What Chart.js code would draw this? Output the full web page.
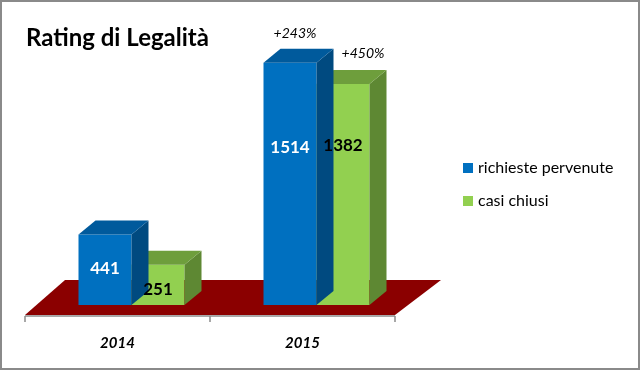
<!DOCTYPE html>
<html><head><meta charset="utf-8">
<script src="https://cdn.jsdelivr.net/npm/chart.js@4"></script>
<style>html,body{margin:0;padding:0;background:#fff}</style>
</head><body><canvas id="c" width="640" height="370"></canvas>
<script>
const categories = ['2014', '2015'];
const richiestePervenute = [441, 1514];
const casiChiusi = [251, 1382];
const seriesNames = ['richieste pervenute', 'casi chiusi'];
const growthLabels = ['+243%', '+450%'];
const chartTitle = 'Rating di Legalità';

const FONT = 'Lato, "Open Sans", sans-serif';
const DX = 17, DY = 14;
const frontColors = ['#0070C0', '#92D050'];
const faceColors = {
  top: ['#005A9C', '#6E9E3C'],
  side: ['#004A80', '#5E8833']
};
const labelColors = ['#ffffff', '#000000'];
// vertical position of value label inside each bar (fraction of bar height from base), [dataset][category]
const labelFrac = [[0.52, 0.65], [0.375, 0.72]];
const growthOffset = [[5, -29], [20, -30]];

const bar3d = {
  id: 'bar3d',
  beforeDatasetsDraw(chart) {
    const ctx = chart.ctx, xs = chart.scales.x, ys = chart.scales.y;
    const base = ys.getPixelForValue(0);
    const L = xs.left - 14, R = xs.right - 14;
    ctx.save();
    ctx.fillStyle = '#8B0000';
    ctx.beginPath();
    ctx.moveTo(L, base + 10);
    ctx.lineTo(L + 40, base - 25);
    ctx.lineTo(R + 46, base - 25);
    ctx.lineTo(R, base + 10);
    ctx.closePath();
    ctx.fill();
    ctx.strokeStyle = '#8c8c8c';
    ctx.lineWidth = 1.5;
    ctx.beginPath();
    ctx.moveTo(L, base + 11); ctx.lineTo(R, base + 11);
    [L, (L + R) / 2, R].forEach(px => { ctx.moveTo(px, base + 11); ctx.lineTo(px, base + 17); });
    ctx.stroke();
    ctx.restore();
  },
  afterDatasetDraw(chart, args) {
    const ctx = chart.ctx, di = args.index;
    ctx.save();
    args.meta.data.forEach(bar => {
      const p = bar.getProps(['x', 'y', 'base', 'width'], true);
      const l = p.x - p.width / 2, r = p.x + p.width / 2, t = p.y, b = p.base;
      ctx.fillStyle = faceColors.side[di];
      ctx.beginPath();
      ctx.moveTo(r, t); ctx.lineTo(r + DX, t - DY); ctx.lineTo(r + DX, b - DY); ctx.lineTo(r, b);
      ctx.closePath(); ctx.fill();
      ctx.fillStyle = faceColors.top[di];
      ctx.beginPath();
      ctx.moveTo(l, t); ctx.lineTo(l + DX, t - DY); ctx.lineTo(r + DX, t - DY); ctx.lineTo(r, t);
      ctx.closePath(); ctx.fill();
    });
    ctx.restore();
  },
  afterDraw(chart) {
    const ctx = chart.ctx;
    ctx.save();
    // value labels
    chart.data.datasets.forEach((ds, di) => {
      const meta = chart.getDatasetMeta(di);
      meta.data.forEach((bar, i) => {
        const p = bar.getProps(['x', 'y', 'base'], true);
        const y = p.base - labelFrac[di][i] * (p.base - p.y);
        ctx.font = 'bold 17px ' + FONT;
        ctx.fillStyle = labelColors[di];
        ctx.textAlign = 'center';
        ctx.textBaseline = 'middle';
        ctx.fillText(String(ds.data[i]), p.x, y);
      });
      const last = meta.data[meta.data.length - 1].getProps(['x', 'y'], true);
      ctx.font = 'italic 14px ' + FONT;
      ctx.fillStyle = '#000';
      ctx.textAlign = 'center';
      ctx.textBaseline = 'middle';
      ctx.fillText(growthLabels[di], last.x + growthOffset[di][0], last.y + growthOffset[di][1]);
    });
    // legend
    ctx.font = '16px ' + FONT;
    ctx.textAlign = 'left';
    ctx.textBaseline = 'middle';
    chart.data.datasets.forEach((ds, di) => {
      const cy = 168 + di * 33;
      ctx.fillStyle = frontColors[di];
      ctx.fillRect(463, cy - 5, 10, 10);
      ctx.fillStyle = '#000';
      ctx.fillText(ds.label, 478, cy);
    });
    // title
    ctx.font = 'bold 24px ' + FONT;
    ctx.fillStyle = '#000';
    ctx.textAlign = 'left';
    ctx.textBaseline = 'alphabetic';
    ctx.fillText(chartTitle, 26, 46);
    // border
    ctx.strokeStyle = '#8a8a8a';
    ctx.lineWidth = 2;
    ctx.strokeRect(1, 1, 638, 368);
    ctx.restore();
  }
};

new Chart(document.getElementById('c'), {
  type: 'bar',
  data: {
    labels: categories,
    datasets: [
      { label: seriesNames[0], data: richiestePervenute, backgroundColor: frontColors[0] },
      { label: seriesNames[1], data: casiChiusi, backgroundColor: frontColors[1] }
    ]
  },
  options: {
    responsive: false,
    animation: false,
    layout: { padding: { left: 39, right: 231, top: 49, bottom: 0 } },
    datasets: { bar: { barPercentage: 1, categoryPercentage: 0.573 } },
    scales: {
      x: {
        grid: { display: false },
        border: { display: false },
        ticks: { labelOffset: -14, padding: 21, color: '#000', font: { family: FONT, size: 15, weight: 'bold', style: 'italic' } },
        afterFit(s) { s.height = 65; }
      },
      y: {
        display: false,
        min: 0, max: 1600
      }
    },
    plugins: {
      legend: { display: false },
      tooltip: { enabled: false }
    }
  },
  plugins: [bar3d]
});
</script>
</body></html>
